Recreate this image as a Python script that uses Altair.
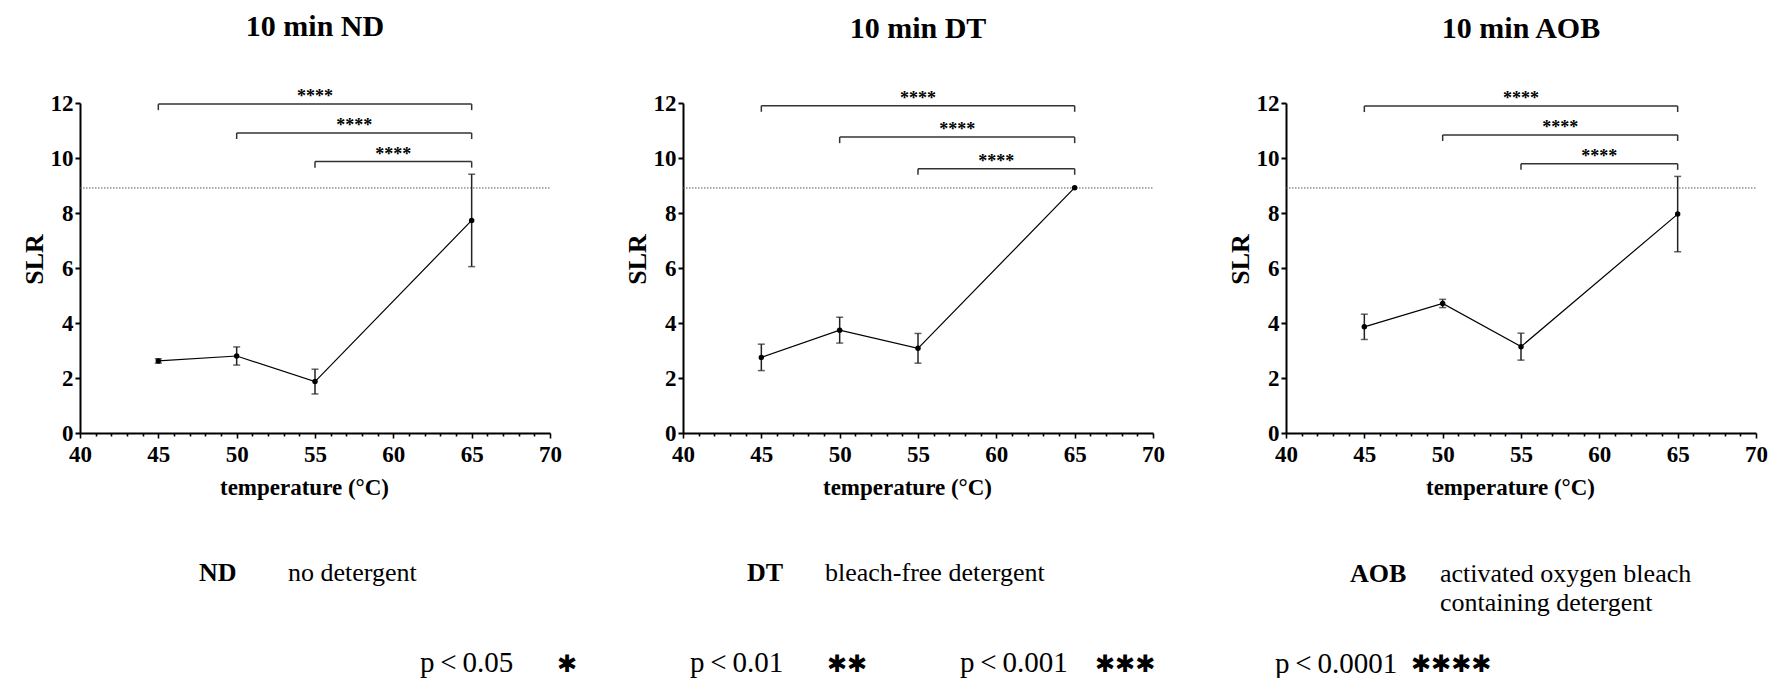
import altair as alt
import pandas as pd

# ---------------- data ----------------
temps = [45, 50, 55, 65]
nd_mean = [2.62, 2.80, 1.87, 7.73]
nd_sd = [0.08, 0.33, 0.45, 1.68]
dt_mean = [2.75, 3.74, 3.08, 8.92]
dt_sd = [0.48, 0.47, 0.54, 0.0]
aob_mean = [3.86, 4.71, 3.14, 7.96]
aob_sd = [0.46, 0.15, 0.49, 1.37]

panel_titles = ["10 min ND", "10 min DT", "10 min AOB"]
bracket_from = [45, 50, 55]
bracket_to = [65, 65, 65]
nd_brackets = [11.96, 10.91, 9.87]
dt_brackets = [11.90, 10.76, 9.61]
aob_brackets = [11.89, 10.84, 9.79]
bracket_labels = ["****", "****", "****"]
reference_level = 8.91

x_ticks = list(range(40, 71))
y_ticks = [0, 2, 4, 6, 8, 10, 12]

abbrev = ["ND", "DT", "AOB"]
abbrev_desc = ["no detergent", "bleach-free detergent",
               "activated oxygen bleach", "containing detergent"]
p_texts = ["p\u2009<\u20090.05", "p\u2009<\u20090.01",
           "p\u2009<\u20090.001", "p\u2009<\u20090.0001"]
p_stars = ["\u2731", "\u2731\u2731", "\u2731\u2731\u2731", "\u2731\u2731\u2731\u2731"]

# ---------------- layout / style ----------------
SERIF = "Liberation Serif"
W, H = 470, 330
LEG = 0.22  # bracket leg length in data units

# page coordinates of legend items (left, baseline)
ORIGIN_X, ORIGIN_Y = 82, 497
abbrev_pos = [(201, 579), (749, 579), (1352, 580)]
desc_pos = [(290, 579), (827, 579), (1442, 580), (1442, 609)]
p_pos = [(422, 670), (692, 670), (962, 670), (1277, 671)]
star_pos = [(559, 663), (829, 663), (1097, 663), (1413, 663)]

xs = alt.Scale(domain=[40, 70], nice=False, zero=False)
ys = alt.Scale(domain=[0, 12], nice=False, zero=True)

xaxis = alt.Axis(
    values=x_ticks,
    labelExpr="datum.value % 5 == 0 ? datum.label : ''",
    labelFlush=False, labelOverlap=False, grid=False,
    tickSize={"condition": {"test": "datum.value % 5 === 0", "value": 5}, "value": 3},
    tickWidth=1.6, tickColor="black",
    domainColor="black", domainWidth=2,
    labelFont=SERIF, labelFontWeight="bold", labelFontSize=23, labelColor="black",
    labelPadding=5,
    titleFont=SERIF, titleFontWeight="bold", titleFontSize=23, titleColor="black",
    titlePadding=10, titleX=224,
)
yaxis = alt.Axis(
    values=y_ticks, grid=False,
    tickSize=5, tickWidth=2, tickColor="black",
    domainColor="black", domainWidth=2,
    labelFont=SERIF, labelFontWeight="bold", labelFontSize=23, labelColor="black",
    labelPadding=2,
    titleFont=SERIF, titleFontWeight="bold", titleFontSize=26, titleColor="black",
    titlePadding=3, titleY=156,
)


def xenc(f):
    return alt.X(f, type="quantitative", scale=xs, axis=xaxis, title="temperature (°C)")


def yenc(f):
    return alt.Y(f, type="quantitative", scale=ys, axis=yaxis, title="SLR")


def panel(title, means, sds, brackets):
    d = pd.DataFrame({"t": temps, "m": means, "sd": sds})
    d["lo"] = d["m"] - d["sd"]
    d["hi"] = d["m"] + d["sd"]
    e = d[d["sd"] > 0]
    b = pd.DataFrame({"a": bracket_from, "b": bracket_to, "y": brackets, "lab": bracket_labels})
    b["yl"] = b["y"] - LEG
    b["mid"] = (b["a"] + b["b"]) / 2
    r = pd.DataFrame({"v": [reference_level]})

    ref = alt.Chart(r).mark_rule(color="#555", strokeWidth=1, strokeDash=[1.5, 1.5]).encode(
        y=yenc("v"), x=alt.value(0), x2=alt.value(W))
    bh = alt.Chart(b).mark_rule(color="#333", strokeWidth=1.5).encode(
        x=xenc("a"), x2="b", y=yenc("y"))
    bl = alt.Chart(b).mark_rule(color="#333", strokeWidth=1.5).encode(
        x=xenc("a"), y=yenc("y"), y2="yl")
    br = alt.Chart(b).mark_rule(color="#333", strokeWidth=1.5).encode(
        x=xenc("b"), y=yenc("y"), y2="yl")
    st = alt.Chart(b).mark_text(font=SERIF, fontWeight="bold", fontSize=18, color="black",
                                baseline="alphabetic", dy=-2).encode(
        x=xenc("mid"), y=yenc("y"), text="lab:N")
    eb = alt.Chart(e).mark_rule(color="#222", strokeWidth=1.5).encode(
        x=xenc("t"), y=yenc("lo"), y2="hi")
    cl = alt.Chart(e).mark_tick(orient="horizontal", size=7, thickness=1.5, color="#222").encode(
        x=xenc("t"), y=yenc("lo"))
    ch = alt.Chart(e).mark_tick(orient="horizontal", size=7, thickness=1.5, color="#222").encode(
        x=xenc("t"), y=yenc("hi"))
    ln = alt.Chart(d).mark_line(color="black", strokeWidth=1.2).encode(
        x=xenc("t"), y=yenc("m"))
    pt = alt.Chart(d).mark_point(filled=True, size=30, color="black", opacity=1).encode(
        x=xenc("t"), y=yenc("m"))
    return alt.layer(ref, bh, bl, br, st, eb, cl, ch, ln, pt).properties(
        width=W, height=H,
        title=alt.TitleParams(text=title, font=SERIF, fontSize=30, fontWeight="bold",
                              color="black", anchor="middle", frame="group",
                              baseline="alphabetic", offset=22),
    )


top = alt.hconcat(
    panel(panel_titles[0], nd_mean, nd_sd, nd_brackets),
    panel(panel_titles[1], dt_mean, dt_sd, dt_brackets),
    panel(panel_titles[2], aob_mean, aob_sd, aob_brackets),
    spacing=62,
)

# ---------------- legend below ----------------
BW, BH = 1620, 170


def tdf(labels, pos):
    return pd.DataFrame({"label": labels,
                         "px": [p[0] - ORIGIN_X for p in pos],
                         "py": [p[1] - ORIGIN_Y for p in pos]})


px = alt.X("px:Q", scale=None, axis=None)
py = alt.Y("py:Q", scale=None, axis=None)

anchor = alt.Chart(pd.DataFrame({"k": [0]})).mark_rule(opacity=0).encode(
    x=alt.value(0), x2=alt.value(10), y=alt.value(0))
t_ab = alt.Chart(tdf(abbrev, abbrev_pos)).mark_text(
    font=SERIF, fontWeight="bold", fontSize=26, align="left", baseline="alphabetic",
    color="black").encode(x=px, y=py, text="label:N")
t_desc = alt.Chart(tdf(abbrev_desc, desc_pos)).mark_text(
    font=SERIF, fontSize=26, align="left", baseline="alphabetic",
    color="black").encode(x=px, y=py, text="label:N")
t_p = alt.Chart(tdf(p_texts, p_pos)).mark_text(
    font=SERIF, fontSize=29, align="left", baseline="alphabetic",
    color="black").encode(x=px, y=py, text="label:N")
t_s = alt.Chart(tdf(p_stars, star_pos)).mark_text(
    font="DejaVu Sans", fontSize=24, align="left", baseline="middle",
    color="black").encode(x=px, y=py, text="label:N")

bottom = alt.layer(anchor, t_ab, t_desc, t_p, t_s).properties(width=BW, height=BH)

chart = alt.vconcat(top, bottom, spacing=0).properties(
    padding={"left": 13, "top": 4, "right": 0, "bottom": 0}
).configure_view(stroke=None)

chart.save("out.html", embed_options={"renderer": "svg", "actions": False})
